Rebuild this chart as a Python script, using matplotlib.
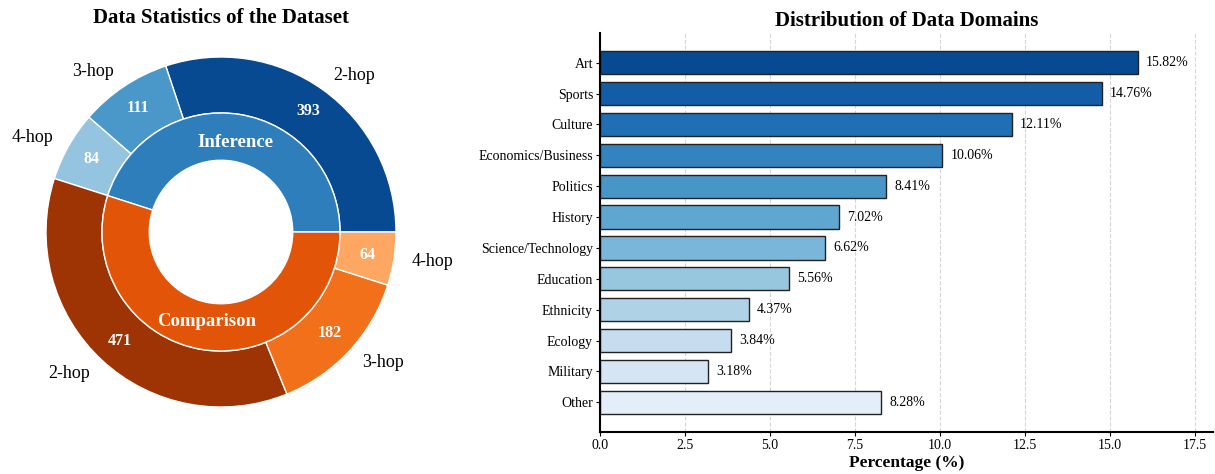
import numpy as np
import matplotlib
matplotlib.use("Agg")
import matplotlib.pyplot as plt

plt.rcParams["font.family"] = ["Liberation Serif", "DejaVu Serif"]

# nested donut data
types = ["Inference", "Comparison"]
hop_labels = ["2-hop", "3-hop", "4-hop"]
inference_hops = [393, 111, 84]
comparison_hops = [471, 182, 64]

# domain distribution data
domains = ["Art", "Sports", "Culture", "Economics/Business", "Politics", "History",
           "Science/Technology", "Education", "Ethnicity", "Ecology", "Military", "Other"]
percentages = [15.82, 14.76, 12.11, 10.06, 8.41, 7.02, 6.62, 5.56, 4.37, 3.84, 3.18, 8.28]

fig = plt.figure(figsize=(12.15, 4.74), dpi=100)
W, H = 1215, 474

# ---- left: donut ----
cx, cy, r_px = 221, 232, 175
ax1 = fig.add_axes([(cx - r_px) / W, (H - cy - r_px) / H, 2 * r_px / W, 2 * r_px / H])

blues = plt.cm.Blues
oranges = plt.cm.Oranges
inner_vals = [sum(inference_hops), sum(comparison_hops)]
inner_colors = [blues(0.7), oranges(0.7)]
outer_vals = inference_hops + comparison_hops
outer_colors = [blues(0.9), blues(0.6), blues(0.4), oranges(0.9), oranges(0.6), oranges(0.4)]
outer_labels = hop_labels + hop_labels

wedges, texts, autotexts = ax1.pie(
    outer_vals, radius=1.0, colors=outer_colors, labels=outer_labels,
    labeldistance=1.1, startangle=0, counterclock=True,
    autopct=lambda p: f"{int(round(p * sum(outer_vals) / 100))}", pctdistance=0.85,
    wedgeprops=dict(width=0.32, edgecolor="white", linewidth=1),
    textprops=dict(fontsize=13))
for t in autotexts:
    t.set_color("white")
    t.set_fontweight("bold")
    t.set_fontsize(11.5)

w2, t2 = ax1.pie(
    inner_vals, radius=0.68, colors=inner_colors, labels=types,
    labeldistance=0.76, startangle=0, counterclock=True,
    wedgeprops=dict(width=0.27, edgecolor="white", linewidth=1),
    textprops=dict(fontsize=13.5, color="white", fontweight="bold"))
for t in t2:
    t.set_ha("center")
    t.set_va("center")

ax1.set_xlim(-1, 1)
ax1.set_ylim(-1, 1)
ax1.set_aspect("equal")
fig.text(cx / W, 1 - 18 / H, "Data Statistics of the Dataset", ha="center", va="center",
         fontsize=15, fontweight="bold")

# ---- right: horizontal bars ----
ax2 = fig.add_axes([600 / W, (H - 432) / H, 613 / W, (432 - 33) / H])
y = np.arange(len(domains))[::-1]
bar_colors = plt.cm.Blues(np.linspace(0.9, 0.1, len(domains)))
ax2.barh(y, percentages, height=0.75, color=bar_colors, edgecolor="#222222", linewidth=1)
for yi, v in zip(y, percentages):
    ax2.text(v + 0.25, yi, f"{v:.2f}%", va="center", ha="left", fontsize=10)

ax2.set_yticks(y)
ax2.set_yticklabels(domains, fontsize=10)
ax2.set_xlim(0, max(percentages) * 1.14)
ax2.tick_params(axis="x", labelsize=10, pad=2, length=3)
ax2.tick_params(axis="y", length=3, pad=2)
ax2.set_xlabel("Percentage (%)", fontsize=12.5, fontweight="bold", labelpad=2)
ax2.set_title("Distribution of Data Domains", fontsize=15, fontweight="bold", pad=5)
ax2.grid(axis="x", linestyle="--", color="#cccccc", linewidth=0.8, alpha=0.8)
ax2.set_axisbelow(True)
ax2.spines["top"].set_visible(False)
ax2.spines["right"].set_visible(False)
ax2.spines["left"].set_linewidth(1.5)
ax2.spines["bottom"].set_linewidth(1.5)

fig.savefig("out.png", dpi=100)
